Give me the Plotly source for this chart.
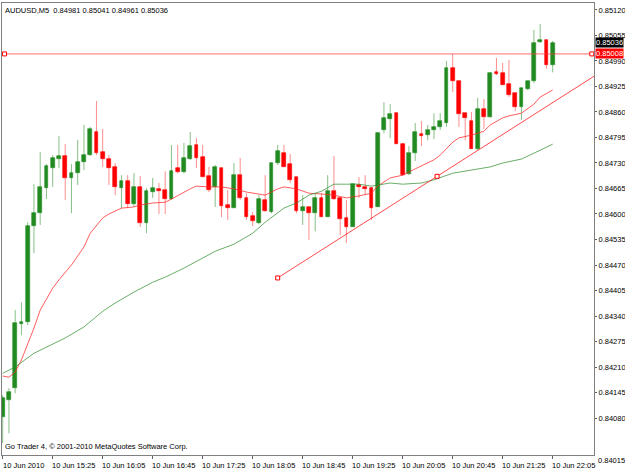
import plotly.graph_objects as go

# ---------------- data (AUDUSD M5, 10 Jun 2010, 14:45 .. 22:05) ----------------
opens = [0.84082, 0.84126, 0.84156, 0.84319, 0.84324, 0.84569, 0.84602, 0.84666, 0.84717, 0.84740,
         0.84748, 0.84692, 0.84704, 0.84732, 0.84750, 0.84809, 0.84758, 0.84740, 0.84720, 0.84666,
         0.84684, 0.84625, 0.84669, 0.84577, 0.84656, 0.84664, 0.84661, 0.84638, 0.84717, 0.84707,
         0.84740, 0.84776, 0.84745, 0.84697, 0.84669, 0.84717, 0.84623, 0.84615, 0.84699, 0.84641,
         0.84595, 0.84577, 0.84636, 0.84605, 0.84730, 0.84755, 0.84727, 0.84694, 0.84607, 0.84618,
         0.84602, 0.84641, 0.84592, 0.84658, 0.84641, 0.84590, 0.84567, 0.84674, 0.84669, 0.84666,
         0.84618, 0.84814, 0.84842, 0.84857, 0.84778, 0.84702, 0.84755, 0.84804, 0.84801, 0.84814,
         0.84822, 0.84832, 0.84972, 0.84939, 0.84857, 0.84837, 0.84766, 0.84868, 0.84847, 0.84962,
         0.84959, 0.84931, 0.84908, 0.84873, 0.84919, 0.84939, 0.85038, 0.85044, 0.84981]
highs = [0.84138, 0.84156, 0.84355, 0.84375, 0.84579, 0.84676, 0.84758, 0.84727, 0.84750, 0.84799,
         0.84778, 0.84727, 0.84789, 0.84827, 0.84822, 0.84888, 0.84817, 0.84750, 0.84730, 0.84699,
         0.84699, 0.84704, 0.84697, 0.84666, 0.84692, 0.84679, 0.84709, 0.84776, 0.84776, 0.84781,
         0.84809, 0.84794, 0.84776, 0.84720, 0.84725, 0.84717, 0.84661, 0.84730, 0.84743, 0.84653,
         0.84605, 0.84648, 0.84699, 0.84730, 0.84776, 0.84776, 0.84753, 0.84694, 0.84648, 0.84618,
         0.84653, 0.84653, 0.84699, 0.84748, 0.84643, 0.84636, 0.84676, 0.84694, 0.84699, 0.84669,
         0.84809, 0.84885, 0.84880, 0.84857, 0.84781, 0.84773, 0.84832, 0.84837, 0.84827, 0.84857,
         0.84857, 0.84990, 0.85008, 0.84939, 0.84857, 0.84860, 0.84896, 0.84893, 0.84962, 0.84998,
         0.84985, 0.84993, 0.84908, 0.84921, 0.84939, 0.85069, 0.85084, 0.85044, 0.85041]
lows = [0.84016, 0.84041, 0.84143, 0.84291, 0.84317, 0.84500, 0.84572, 0.84638, 0.84669, 0.84717,
        0.84636, 0.84602, 0.84674, 0.84712, 0.84748, 0.84750, 0.84720, 0.84674, 0.84648, 0.84615,
        0.84615, 0.84618, 0.84567, 0.84551, 0.84641, 0.84600, 0.84600, 0.84636, 0.84704, 0.84704,
        0.84738, 0.84717, 0.84694, 0.84656, 0.84618, 0.84592, 0.84585, 0.84615, 0.84636, 0.84585,
        0.84569, 0.84574, 0.84605, 0.84602, 0.84725, 0.84720, 0.84679, 0.84602, 0.84572, 0.84534,
        0.84556, 0.84592, 0.84592, 0.84636, 0.84546, 0.84526, 0.84567, 0.84641, 0.84648, 0.84585,
        0.84618, 0.84806, 0.84794, 0.84778, 0.84697, 0.84699, 0.84735, 0.84773, 0.84788, 0.84791,
        0.84814, 0.84822, 0.84911, 0.84822, 0.84788, 0.84766, 0.84763, 0.84817, 0.84845, 0.84954,
        0.84929, 0.84898, 0.84862, 0.84840, 0.84916, 0.84934, 0.85036, 0.84970, 0.84961]
closes = [0.84131, 0.84146, 0.84322, 0.84324, 0.84569, 0.84602, 0.84669, 0.84722, 0.84743, 0.84748,
          0.84692, 0.84704, 0.84732, 0.84750, 0.84817, 0.84755, 0.84740, 0.84717, 0.84669, 0.84684,
          0.84625, 0.84669, 0.84577, 0.84658, 0.84666, 0.84658, 0.84638, 0.84709, 0.84707, 0.84743,
          0.84773, 0.84743, 0.84694, 0.84661, 0.84720, 0.84620, 0.84615, 0.84699, 0.84641, 0.84592,
          0.84582, 0.84638, 0.84607, 0.84730, 0.84760, 0.84720, 0.84687, 0.84607, 0.84618, 0.84602,
          0.84641, 0.84592, 0.84658, 0.84638, 0.84587, 0.84567, 0.84676, 0.84669, 0.84664, 0.84615,
          0.84806, 0.84845, 0.84855, 0.84778, 0.84699, 0.84755, 0.84809, 0.84799, 0.84814, 0.84822,
          0.84837, 0.84972, 0.84939, 0.84855, 0.84845, 0.84766, 0.84868, 0.84847, 0.84959, 0.84957,
          0.84929, 0.84903, 0.84873, 0.84921, 0.84939, 0.85036, 0.85044, 0.84980, 0.85036]

# moving averages (bar index, price)
ma_red_idx = [0, 1, 2, 3, 5, 6, 8, 9, 11, 13, 14, 16, 17, 19, 21, 22, 24, 26, 27, 29, 30, 31, 33, 35,
              37, 39, 41, 42, 44, 45, 47, 49, 51, 53, 55, 57, 59, 60, 62, 64, 66, 67, 69, 70, 72, 73,
              75, 77, 78, 80, 81, 83, 85, 86, 87, 88]
ma_red_val = [0.84187, 0.84184, 0.84197, 0.84228, 0.84309, 0.84355, 0.84411, 0.84432, 0.84470, 0.84516,
              0.84551, 0.84590, 0.84600, 0.84615, 0.84618, 0.84623, 0.84628, 0.84630, 0.84638, 0.84656,
              0.84664, 0.84671, 0.84669, 0.84669, 0.84664, 0.84656, 0.84651, 0.84648, 0.84664, 0.84669,
              0.84664, 0.84653, 0.84651, 0.84648, 0.84641, 0.84646, 0.84653, 0.84671, 0.84692, 0.84699,
              0.84715, 0.84722, 0.84738, 0.84750, 0.84783, 0.84794, 0.84801, 0.84811, 0.84827, 0.84845,
              0.84850, 0.84857, 0.84880, 0.84898, 0.84906, 0.84916]
ma_green_idx = [0, 2, 5, 8, 10, 13, 16, 18, 21, 24, 26, 29, 31, 34, 37, 40, 42, 45, 47, 49, 51, 53, 55,
                57, 59, 62, 64, 67, 69, 72, 75, 78, 80, 83, 85, 88]
ma_green_val = [0.84194, 0.84210, 0.84245, 0.84268, 0.84284, 0.84312, 0.84352, 0.84373, 0.84401, 0.84426,
                0.84439, 0.84462, 0.84480, 0.84505, 0.84523, 0.84551, 0.84579, 0.84615, 0.84628, 0.84648,
                0.84658, 0.84676, 0.84676, 0.84676, 0.84671, 0.84679, 0.84676, 0.84679, 0.84687, 0.84704,
                0.84712, 0.84720, 0.84730, 0.84740, 0.84755, 0.84778]

# trend line anchors (bar index, price) and horizontal line level
trend_idx = [44, 69.5]
trend_val = [0.84437, 0.84696]
hline_level = 0.85008
bid_price = 0.85036

tick_idx = [0, 8, 16, 24, 32, 40, 48, 56, 64, 72, 80, 88]
tick_text = ["10 Jun 2010", "10 Jun 15:25", "10 Jun 16:05", "10 Jun 16:45", "10 Jun 17:25",
             "10 Jun 18:05", "10 Jun 18:45", "10 Jun 19:25", "10 Jun 20:05", "10 Jun 20:45",
             "10 Jun 21:25", "10 Jun 22:05"]
y_tick_vals = [0.85120, 0.85055, 0.84990, 0.84925, 0.84860, 0.84795, 0.84730, 0.84665, 0.84600,
               0.84535, 0.84470, 0.84405, 0.84340, 0.84275, 0.84210, 0.84145, 0.84080]
y_tick_text = ["%.5f" % v for v in y_tick_vals]
bottom_label = "0.84015"
title_text = "AUDUSD,M5  0.84981 0.85041 0.84961 0.85036"
footer_text = "Go Trader 4, \u00a9 2001-2010 MetaQuotes Software Corp."

# ---------------- figure ----------------
X_RANGE = [-0.112, 94.608]
Y_RANGE = [0.839857, 0.851378]
GREEN = "#228B22"
RED = "#FF0000"
FONT = "Liberation Sans"

n = len(opens)
idx = list(range(n))

fig = go.Figure()

# wicks
for up, col in ((True, "rgba(34,139,34,0.55)"), (False, "rgba(255,0,0,0.45)")):
    xs, ys = [], []
    for i in idx:
        if (closes[i] >= opens[i]) == up:
            xs += [i, i, None]
            ys += [lows[i], highs[i], None]
    fig.add_trace(go.Scatter(x=xs, y=ys, mode="lines", line=dict(color=col, width=1),
                             hoverinfo="skip", showlegend=False))

# bodies
bases = [min(o, c) for o, c in zip(opens, closes)]
heights = [max(abs(c - o), 0.000005) for o, c in zip(opens, closes)]
colors = [GREEN if c >= o else RED for o, c in zip(opens, closes)]
fig.add_trace(go.Bar(x=idx, y=heights, base=bases, width=0.6,
                     marker=dict(color=colors, line=dict(color=colors, width=0.6)),
                     showlegend=False, hoverinfo="skip"))

# moving averages
fig.add_trace(go.Scatter(x=ma_red_idx, y=ma_red_val, mode="lines",
                         line=dict(color="rgba(255,40,40,0.75)", width=1), showlegend=False))
fig.add_trace(go.Scatter(x=ma_green_idx, y=ma_green_val, mode="lines",
                         line=dict(color="rgba(40,140,40,0.7)", width=1), showlegend=False))

# trend line (ray to the right edge)
slope = (trend_val[1] - trend_val[0]) / (trend_idx[1] - trend_idx[0])
x_end = X_RANGE[1]
fig.add_trace(go.Scatter(x=[trend_idx[0], x_end],
                         y=[trend_val[0], trend_val[0] + slope * (x_end - trend_idx[0])],
                         mode="lines", line=dict(color="rgba(255,30,30,0.8)", width=1),
                         showlegend=False))
fig.add_trace(go.Scatter(x=trend_idx, y=trend_val, mode="markers",
                         marker=dict(symbol="square", size=4, color="white",
                                     line=dict(color=RED, width=1)), showlegend=False))

# horizontal line
fig.add_trace(go.Scatter(x=[X_RANGE[0], X_RANGE[1]], y=[hline_level, hline_level], mode="lines",
                         line=dict(color="rgba(255,60,60,0.75)", width=1), showlegend=False))
fig.add_trace(go.Scatter(x=[0.3, X_RANGE[1] - 0.35], y=[hline_level, hline_level], mode="markers",
                         marker=dict(symbol="square", size=4, color="white",
                                     line=dict(color=RED, width=1)), showlegend=False,
                         cliponaxis=False))

fig.update_layout(
    width=625, height=469,
    margin=dict(l=2, r=31, t=3, b=14, autoexpand=False),
    paper_bgcolor="white", plot_bgcolor="white",
    bargap=0, showlegend=False,
    font=dict(family=FONT, size=7.5, color="black"),
    xaxis=dict(range=X_RANGE, tickvals=tick_idx, ticktext=tick_text, ticks="outside",
               ticklen=3, tickcolor="#606060", tickwidth=1, showgrid=False, zeroline=False,
               showline=True, linecolor="#808080", linewidth=1, mirror=True,
               tickangle=0, automargin=False, ticklabelshift=21, ticklabelstandoff=0,
               tickfont=dict(size=7.5, family=FONT), fixedrange=True),
    yaxis=dict(range=Y_RANGE, side="right", tickvals=y_tick_vals, ticktext=y_tick_text,
               ticks="outside", ticklen=2, tickcolor="#606060", showgrid=False, zeroline=False,
               showline=True, linecolor="#808080", linewidth=1, mirror=True, automargin=False,
               tickfont=dict(size=7.5, family=FONT), fixedrange=True),
)

annotations = [
    dict(text=title_text, xref="paper", yref="paper", x=0.002, y=1, xanchor="left", yanchor="top",
         yshift=-1, showarrow=False, font=dict(size=7.5, family=FONT, color="black")),
    dict(text=footer_text, xref="paper", yref="paper", x=0.002, y=0, xanchor="left",
         yanchor="bottom", yshift=2, showarrow=False,
         font=dict(size=7.5, family=FONT, color="black")),
    dict(text=bottom_label, xref="paper", yref="y", x=1, y=Y_RANGE[0], xanchor="left",
         yanchor="middle", xshift=2, yshift=-5, showarrow=False,
         font=dict(size=7.5, family=FONT, color="black")),
    dict(text="%.5f" % bid_price, xref="paper", yref="y", x=1, y=bid_price, xanchor="left",
         yanchor="middle", xshift=1, showarrow=False, bgcolor="black", borderpad=0,
         font=dict(size=7.5, family=FONT, color="white")),
    dict(text="%.5f" % hline_level, xref="paper", yref="y", x=1, y=hline_level, xanchor="left",
         yanchor="middle", xshift=1, showarrow=False, bgcolor=RED, borderpad=0,
         font=dict(size=7.5, family=FONT, color="white")),
]
fig.update_layout(annotations=annotations)

fig.write_html("out.html")
